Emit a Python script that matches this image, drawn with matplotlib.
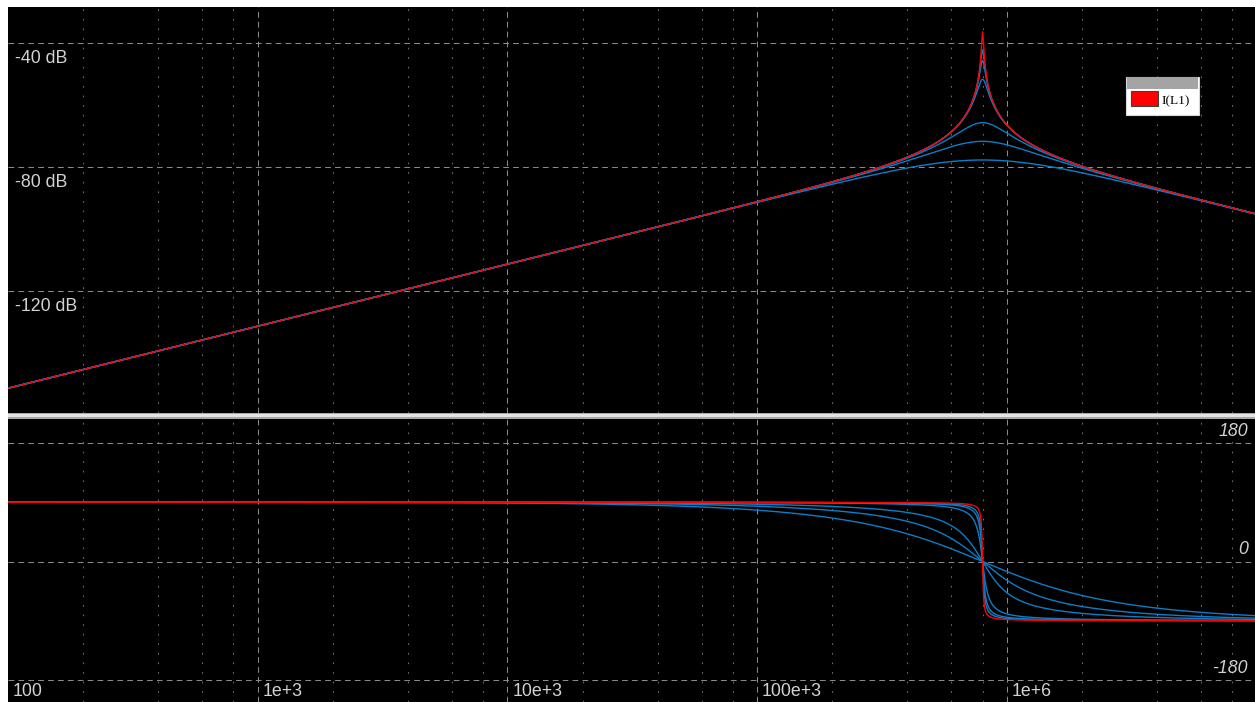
import numpy as np
import matplotlib
matplotlib.use("Agg")
import matplotlib.pyplot as plt
import matplotlib.transforms as mtransforms
from matplotlib.patches import Rectangle
from matplotlib.ticker import FixedLocator, NullFormatter

# ---- circuit response data (stepped Q of the resonant tank) ----
f0_hz = 8.0e5                     # resonant frequency
gain_db = -73.3                   # gain at resonance for Q = 1
q_steps = [0.6, 1.2, 2.4, 12.0, 24.0, 36.0]   # stepped traces
q_main = 70.0                     # highlighted trace I(L1)

freq_range = [100.0, 9.87e6]
mag_ticks = [-40, -80, -120]
mag_labels = ["-40 dB", "-80 dB", "-120 dB"]
phase_ticks = [180, 0, -180]
phase_labels = ["180", "0", "-180"]
freq_ticks = [1e2, 1e3, 1e4, 1e5, 1e6]
freq_labels = ["100", "1e+3", "10e+3", "100e+3", "1e+6"]
minor_mult = [2, 4, 6, 8]

W, H = 1255, 702
DPI = 100


def fx(px):
    return px / W


def fy(py):
    return 1 - py / H


def response(f, q):
    x = f / f0_hz
    a = 10 ** (gain_db / 20)
    h = a * (1j * x) / (1 - x ** 2 + 1j * x / q)
    return 20 * np.log10(np.abs(h)), np.angle(h, deg=True)


fig = plt.figure(figsize=(W / DPI, H / DPI), dpi=DPI, facecolor="white")

ax_m = fig.add_axes([fx(8), fy(413), fx(W - 8), (413 - 7) / H])
ax_p = fig.add_axes([fx(8), 0, fx(W - 8), (H - 419) / H])

mag_lim = (-40 - (413 - 43) / 3.1, -40 + (43 - 7) / 3.1)
ph_scale = 237 / 360.0
ph_lim = (-(H - 561.5) / ph_scale, (561.5 - 419) / ph_scale)

# decade lines inside the plotted span (the 100 Hz line sits on the left edge)
grid_decades = [v for v in freq_ticks if v > freq_range[0]]
minor_locs = [m * d for d in [1e2, 1e3, 1e4, 1e5, 1e6] for m in minor_mult]

text_col = "#D2D2D2"
major_grid = dict(color="#8A8A8A", linewidth=0.75, linestyle=(0, (5.5, 4)))
minor_grid = dict(color="#6E6E6E", linewidth=0.75, linestyle=(0, (1.6, 7.6)))

for ax, lim, yt in [(ax_m, mag_lim, mag_ticks), (ax_p, ph_lim, phase_ticks)]:
    ax.set_facecolor("black")
    ax.set_xscale("log")
    ax.set_xlim(*freq_range)
    ax.set_ylim(*lim)
    ax.xaxis.set_major_locator(FixedLocator(grid_decades))
    ax.xaxis.set_minor_locator(FixedLocator(minor_locs))
    ax.xaxis.set_major_formatter(NullFormatter())
    ax.xaxis.set_minor_formatter(NullFormatter())
    ax.yaxis.set_major_locator(FixedLocator(yt))
    ax.yaxis.set_major_formatter(NullFormatter())
    ax.tick_params(which="both", length=0)
    for s in ax.spines.values():
        s.set_visible(False)
    ax.grid(True, which="major", axis="both", **major_grid)
    ax.grid(True, which="minor", axis="x", **minor_grid)
    ax.set_axisbelow(True)

freq = np.logspace(np.log10(freq_range[0]), np.log10(freq_range[1]), 40000)

blue = "#0A7EC8"
for q in q_steps:
    m, p = response(freq, q)
    ax_m.plot(freq, m, color=blue, lw=1.0)
    ax_p.plot(freq, p, color=blue, lw=1.0)
m, p = response(freq, q_main)
ax_m.plot(freq, m, color="#FF0000", lw=1.0)
ax_p.plot(freq, p, color="#FF0000", lw=1.0)

font = dict(family="Liberation Sans", size=12.8, color=text_col)

# magnitude labels, left side below each grid line
for v, lab in zip(mag_ticks, mag_labels):
    tr = mtransforms.offset_copy(
        mtransforms.blended_transform_factory(ax_m.transAxes, ax_m.transData),
        fig=fig, x=7, y=-20, units="dots")
    ax_m.text(0, v, lab, transform=tr, ha="left", va="baseline", **font)

# phase labels, right side above each grid line
for v, lab in zip(phase_ticks, phase_labels):
    tr = mtransforms.offset_copy(
        mtransforms.blended_transform_factory(ax_p.transAxes, ax_p.transData),
        fig=fig, x=0, y=7, units="dots")
    ax_p.text((1248 - 8) / (W - 8), v, lab, transform=tr, ha="right",
              va="baseline", style="italic", **font)

# frequency labels along the bottom
for v, lab in zip(freq_ticks, freq_labels):
    tr = mtransforms.offset_copy(
        mtransforms.blended_transform_factory(ax_p.transData, ax_p.transAxes),
        fig=fig, x=5, y=0, units="dots")
    ax_p.text(v, (H - 696) / (H - 419), lab, transform=tr, ha="left",
              va="baseline", **font)

# pane separator bar
fig.patches.append(Rectangle((fx(8), fy(419)), fx(W - 8), 6 / H,
                             transform=fig.transFigure, facecolor="#A8A8A8",
                             edgecolor="none", zorder=5))
fig.patches.append(Rectangle((fx(8), fy(417)), fx(W - 8), 3 / H,
                             transform=fig.transFigure, facecolor="#E4E4E4",
                             edgecolor="none", zorder=6))

# trace legend box
fig.patches.append(Rectangle((fx(1126), fy(115)), fx(73), 38 / H,
                             transform=fig.transFigure, facecolor="white",
                             edgecolor="#D8D8D8", linewidth=0.8, zorder=7))
fig.patches.append(Rectangle((fx(1127), fy(89)), fx(71), 12 / H,
                             transform=fig.transFigure, facecolor="#A4A4A4",
                             edgecolor="none", zorder=8))
fig.patches.append(Rectangle((fx(1131), fy(106)), fx(27), 15 / H,
                             transform=fig.transFigure, facecolor="#FF0000",
                             edgecolor="#404040", linewidth=0.8, zorder=8))
fig.text(fx(1162), fy(104), "I(L1)", family="Liberation Serif", size=9.6,
         color="black", ha="left", va="baseline", zorder=9)

fig.savefig("out.png", dpi=DPI, facecolor="white")
